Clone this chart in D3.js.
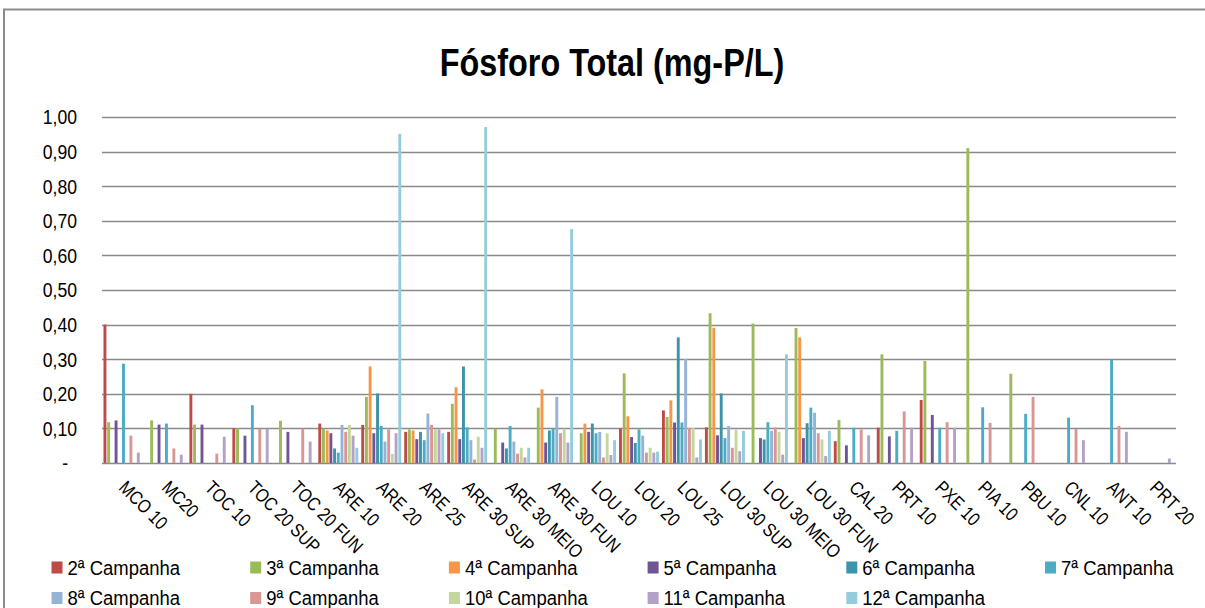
<!DOCTYPE html>
<html>
<head>
<meta charset="utf-8">
<script src="https://cdnjs.cloudflare.com/ajax/libs/d3/7.8.5/d3.min.js"></script>
<style>
  body { margin: 0; background: #fff; }
  svg text { font-family: "Liberation Sans", Arial, sans-serif; fill: #000; }
</style>
</head>
<body>
<div id="container"></div>
<script>
/*
    Chart data
*/
var categories = ["MCO 10", "MC20", "TOC 10", "TOC 20 SUP", "TOC 20 FUN", "ARE 10", "ARE 20", "ARE 25",
    "ARE 30 SUP", "ARE 30 MEIO", "ARE 30 FUN", "LOU 10", "LOU 20", "LOU 25", "LOU 30 SUP", "LOU 30 MEIO",
    "LOU 30 FUN", "CAL 20", "PRT 10", "PXE 10", "PIA 10", "PBU 10", "CNL 10", "ANT 10", "PRT 20"];

var seriesNames = ["2ª Campanha", "3ª Campanha", "4ª Campanha", "5ª Campanha", "6ª Campanha", "7ª Campanha",
    "8ª Campanha", "9ª Campanha", "10ª Campanha", "11ª Campanha", "12ª Campanha"];

var seriesColors = ["#BE4B48", "#9BBB59", "#F79646", "#705596", "#3C93AA", "#4BACC6",
    "#95B3D7", "#D99694", "#C3D69B", "#B3A2C7", "#93CDDD"];

var camp2  = [0.40, null, 0.20, 0.10, null, 0.114, 0.11, 0.09, 0.09, null, null, null, 0.10, 0.152, 0.103, null, null, 0.063, 0.102, 0.182, null, null, null, null, null];
var camp3  = [0.118, 0.123, 0.111, 0.10, 0.122, 0.099, 0.191, 0.097, 0.171, 0.099, 0.160, 0.086, 0.259, 0.133, 0.433, 0.403, 0.390, 0.124, 0.314, 0.295, 0.910, 0.258, null, null, null];
var camp4  = [null, null, null, null, null, 0.094, 0.279, 0.094, 0.219, null, 0.213, 0.114, 0.135, 0.181, 0.391, null, 0.363, null, null, null, null, null, null, null, null];
var camp5  = [0.123, 0.111, 0.111, 0.079, 0.090, 0.086, 0.086, 0.069, 0.069, 0.059, 0.059, 0.090, 0.075, 0.117, 0.080, 0.072, 0.072, 0.051, 0.077, 0.139, null, null, null, null, null];
var camp6  = [null, null, null, null, null, 0.042, 0.201, 0.090, 0.279, 0.042, 0.094, 0.114, 0.058, 0.363, 0.201, 0.068, 0.115, null, null, null, null, null, null, null, null];
var camp7  = [0.287, 0.114, null, 0.167, null, 0.030, 0.107, 0.066, 0.103, 0.107, 0.099, 0.086, 0.097, 0.117, 0.072, 0.118, 0.160, 0.102, 0.093, 0.102, 0.161, 0.142, 0.131, 0.298, null];
var camp8  = [null, null, null, null, null, 0.110, 0.062, 0.143, 0.066, 0.062, 0.191, 0.090, 0.079, 0.301, 0.107, 0.093, 0.145, null, null, null, null, null, null, null, null];
var camp9  = [0.079, 0.042, 0.027, 0.099, 0.099, 0.090, 0.097, 0.110, 0.010, 0.027, 0.086, 0.016, 0.030, 0.101, 0.044, 0.103, 0.086, 0.097, 0.149, 0.118, 0.116, 0.191, 0.098, 0.107, null];
var camp10 = [null, null, null, null, null, 0.110, 0.026, 0.097, 0.076, 0.044, 0.099, 0.086, 0.044, 0.101, 0.096, 0.090, 0.068, null, null, null, null, null, null, null, null];
var camp11 = [0.030, 0.024, 0.076, 0.099, 0.062, 0.079, 0.086, 0.097, 0.044, 0.016, 0.059, 0.023, 0.030, 0.016, 0.034, 0.024, 0.020, 0.080, 0.102, 0.102, null, null, 0.066, 0.090, 0.013];
var camp12 = [null, null, null, null, null, 0.044, 0.951, 0.086, 0.971, 0.044, 0.676, 0.066, 0.033, 0.068, 0.093, 0.314, 0.093, null, null, null, null, null, null, null, null];

var seriesValues = [camp2, camp3, camp4, camp5, camp6, camp7, camp8, camp9, camp10, camp11, camp12];
var yTicks = [0, 0.1, 0.2, 0.3, 0.4, 0.5, 0.6, 0.7, 0.8, 0.9, 1.0];

var width = 1205, height = 608;
var plot = { left: 102, right: 1176, top: 117, bottom: 463 };

// no narrow font installed, so squeeze the text horizontally
var NARROW = 0.84;

var svg = d3.select("#container").append("svg")
    .attr("width", width)
    .attr("height", height);

/*
    Chart frame
*/
svg.append("path")
    .attr("d", "M4,620 L4,9.5 L1215,9.5")
    .attr("fill", "none")
    .attr("stroke", "#8c8c8c")
    .attr("stroke-width", 2);

svg.append("text")
    .attr("transform", "translate(612,76) scale(0.83,1)")
    .attr("text-anchor", "middle")
    .style("font-size", "39px")
    .style("font-weight", "bold")
    .text("Fósforo Total (mg-P/L)");

/*
    Scales
*/
var x0 = d3.scaleBand()
    .domain(categories)
    .range([plot.left, plot.right])
    .padding(0);

var x1 = d3.scaleBand()
    .domain(d3.range(seriesNames.length))
    .range([1.5, x0.bandwidth() - 1.5])
    .paddingInner(0.22);

var y = d3.scaleLinear()
    .domain([0, 1])
    .range([plot.bottom, plot.top]);

/*
    Gridlines + y labels
*/
svg.append("g")
    .selectAll("line")
    .data(yTicks)
    .enter().append("line")
    .attr("x1", plot.left)
    .attr("x2", plot.right)
    .attr("y1", function (d) { return Math.round(y(d)) + 0.5; })
    .attr("y2", function (d) { return Math.round(y(d)) + 0.5; })
    .attr("stroke", "#8a8a8a")
    .attr("stroke-width", 1.5);

svg.append("g")
    .selectAll("text")
    .data(yTicks)
    .enter().append("text")
    .attr("transform", function (d) {
        return "translate(" + (d === 0 ? 68 : 77) + "," + y(d) + ") scale(" + NARROW + ",1)";
    })
    .attr("dy", "0.35em")
    .attr("text-anchor", "end")
    .style("font-size", "21px")
    .text(function (d) { return d === 0 ? "-" : d3.format(".2f")(d).replace(".", ","); });

/*
    Bars
*/
var groups = svg.append("g")
    .selectAll("g")
    .data(seriesValues)
    .enter().append("g")
    .attr("fill", function (d, i) { return seriesColors[i]; });

groups.each(function (vals, si) {
    d3.select(this).selectAll("rect")
        .data(vals.map(function (v, ci) { return { v: v, c: categories[ci] }; })
            .filter(function (d) { return d.v !== null; }))
        .enter().append("rect")
        .attr("x", function (d) { return x0(d.c) + x1(si); })
        .attr("width", x1.bandwidth())
        .attr("y", function (d) { return y(d.v); })
        .attr("height", function (d) { return y(0) - y(d.v); });
});

/*
    Category labels, rotated 45deg
*/
svg.append("g")
    .selectAll("text")
    .data(categories)
    .enter().append("text")
    .attr("transform", function (d) {
        return "translate(" + (x0(d) + x0.bandwidth() / 2 - 1) + ",484) rotate(45) scale(" + NARROW + ",1)";
    })
    .attr("dy", "0.35em")
    .attr("text-anchor", "start")
    .style("font-size", "19px")
    .text(function (d) { return d; });

/*
    Legend: two rows
*/
var legend = svg.append("g")
    .selectAll("g")
    .data(seriesNames)
    .enter().append("g")
    .attr("transform", function (d, i) {
        var col = i % 6, row = Math.floor(i / 6);
        return "translate(" + (51.5 + col * 198.7) + "," + (567.5 + row * 30.5) + ")";
    });

legend.append("rect")
    .attr("x", 0)
    .attr("y", -6)
    .attr("width", 11)
    .attr("height", 12)
    .attr("fill", function (d, i) { return seriesColors[i]; });

legend.append("text")
    .attr("transform", "translate(16,0) scale(0.88,1)")
    .attr("dy", "0.35em")
    .style("font-size", "21px")
    .text(function (d) { return d; });
</script>
</body>
</html>
